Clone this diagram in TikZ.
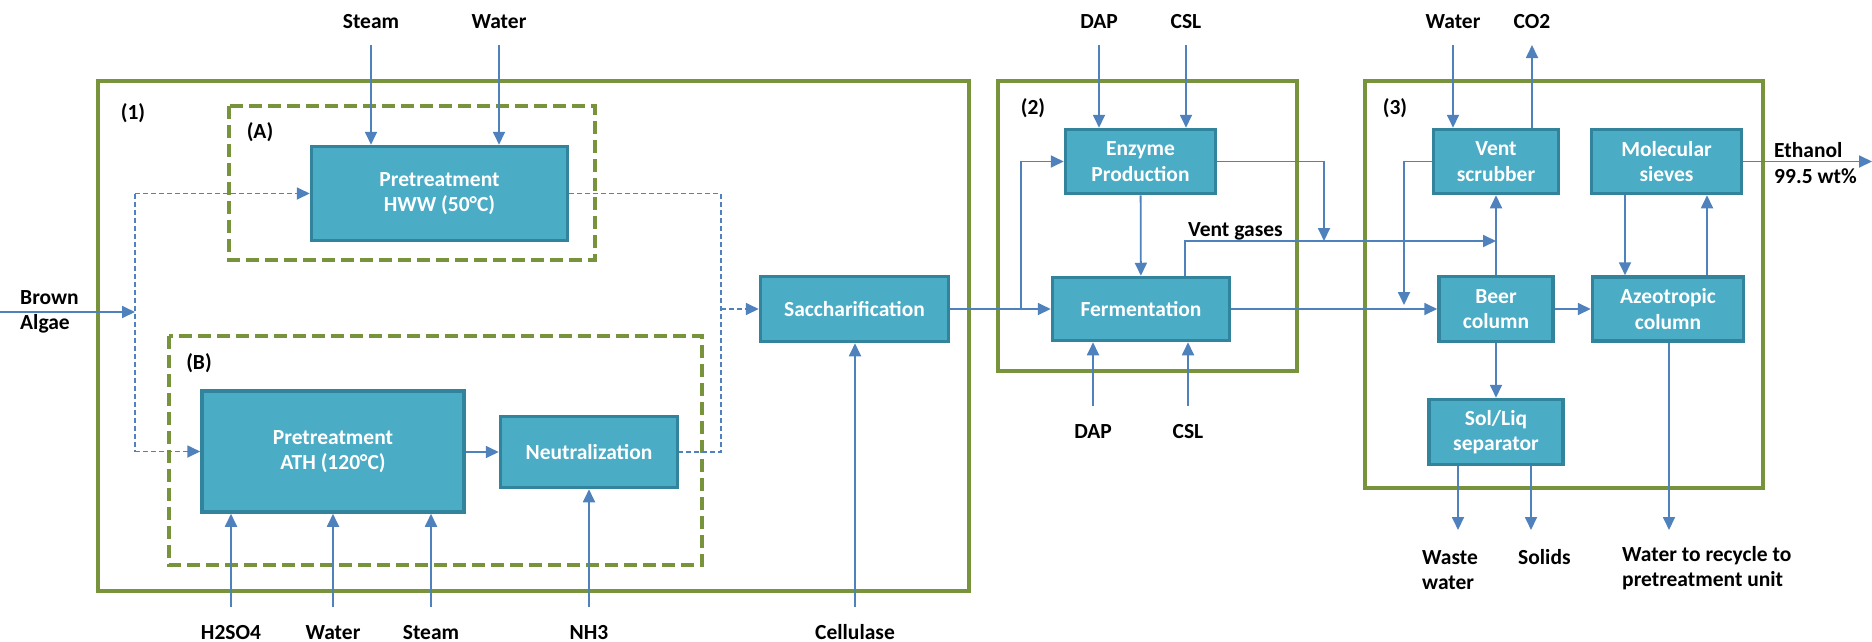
\documentclass[tikz,border=0pt]{standalone}
\usepackage{fontspec}
\setmainfont{Carlito}
\usetikzlibrary{arrows.meta}
\definecolor{boxfill}{HTML}{4BACC6}
\definecolor{boxline}{HTML}{31849B}
\definecolor{grn}{HTML}{77933C}
\definecolor{flow}{HTML}{4F81BD}

\begin{document}
\begin{tikzpicture}[x=1pt, y=-1pt,
	font=\fontsize{21.5}{25.5}\selectfont\bfseries,
	unit/.style={draw=boxline, fill=boxfill, line width=3.5pt, text=white, align=center, inner sep=0pt},
	area/.style={draw=grn, line width=4pt},
	subarea/.style={draw=grn, line width=4pt, dash pattern=on 13pt off 6pt},
	flowline/.style={draw=flow, line width=1.8pt},
	arr/.style={flowline, -{Triangle[length=13pt,width=12pt]}},
	dflow/.style={dash pattern=on 5pt off 3pt},
	lbl/.style={anchor=base, inner sep=0pt, text height=14pt, text depth=4pt},
	mlbl/.style={anchor=west, inner sep=0pt, align=left}]
	\useasboundingbox (0,0) rectangle (1872,641);
	% areas
	\draw[area] (98,81) rectangle (969,591);
	\draw[area] (998,81) rectangle (1297,371);
	\draw[area] (1365,81) rectangle (1763,488);
	\draw[subarea] (229,106) rectangle (595,260);
	\draw[subarea] (169,336) rectangle (702,565);
	\node (r1) at (133,113) {(1)};
	\node (rA) at (260,132) {(A)};
	\node (rB) at (199,363) {(B)};
	\node (r2) at (1033,108) {(2)};
	\node (r3) at (1395,108) {(3)};
	% units
	\node[unit, minimum width=256, minimum height=94] (hww) at (439.5,193.5) {Pretreatment\\HWW (50°C)};
	\node[unit, minimum width=262, minimum height=121] (ath) at (333,451.5) {Pretreatment\\ATH (120°C)};
	\node[unit, minimum width=177, minimum height=71] (neut) at (589,452) {Neutralization};
	\node[unit, minimum width=188, minimum height=65] (sacch) at (854.5,309) {Saccharification};
	\node[unit, minimum width=150, minimum height=64] (enz) at (1140.5,161.5) {Enzyme\\Production};
	\node[unit, minimum width=177, minimum height=63] (ferm) at (1141,309) {Fermentation};
	\node[unit, minimum width=125, minimum height=64] (vent) at (1496,161.5) {Vent\\scrubber};
	\node[unit, minimum width=150, minimum height=64] (mol) at (1666.5,161.5) {Molecular\\sieves};
	\node[unit, minimum width=114, minimum height=65] (beer) at (1496,309) {Beer\\column};
	\node[unit, minimum width=151, minimum height=64] (azeo) at (1668,309) {Azeotropic\\column};
	\node[unit, minimum width=134, minimum height=65] (sep) at (1496,432) {Sol/Liq\\separator};
	% feed and pretreatment routes
	\node[mlbl] (algae) at (20,312) {Brown\\Algae};
	\coordinate (feed) at (0,312); \coordinate (split) at (135,312);
	\coordinate (merge) at (721,309);
	\draw[arr] (feed) -- (split);
	\draw[flowline, dflow] (split |- hww.west) -- (split |- ath.west);
	\draw[arr, dflow] (split |- hww.west) -- (hww.west);
	\draw[arr, dflow] (split |- ath.west) -- (ath.west);
	\draw[flowline, dflow] (hww.east) -| (merge |- neut.east) -- (neut.east);
	\draw[arr, dflow] (merge) -- (sacch.west);
	\draw[arr] (ath.east |- neut.west) -- (neut.west);
	% feeds from above
	\foreach \n/\x/\t/\tgt in {s/371/Steam/hww, w/499/Water/hww, d/1099/DAP/enz, c/1186/CSL/enz, v/1453/Water/vent}
	{
		\node[lbl] (top\n) at (\x,28) {\t};
		\draw[arr] ([yshift=-17pt]top\n.base) -- (top\n |- \tgt.north);
	}
	\node[lbl] (co2) at (1532,28) {CO2};
	\draw[arr] (co2 |- vent.north) -- ([yshift=-17pt]co2.base);
	% feeds from below
	\foreach \n/\x/\y/\t/\tgt in {h/231/639/H2SO4/ath, w/333/639/Water/ath, s/431/639/Steam/ath, n/589/639/NH3/neut, c/855/639/Cellulase/sacch, d/1093/438/DAP/ferm, l/1188/438/CSL/ferm}
	{
		\node[lbl] (bot\n) at (\x,\y) {\t};
		\draw[arr] ([yshift=18pt]bot\n.north) -- (bot\n |- \tgt.south);
	}
	% fermentation
	\coordinate (br) at (1021,309);
	\coordinate (vgas) at (1185,241); \coordinate (ejoin) at (1324,241);
	\draw[arr] (sacch) -- (ferm);
	\draw[arr] (br) |- (enz.west);
	\draw[arr] (enz) -- (ferm);
	\draw[arr] (vgas |- ferm.north) -- (vgas) -- (vgas -| beer.north);
	\node[lbl, anchor=base west] (vgtxt) at (1188,236) {Vent gases};
	\draw[arr] (enz.east) -| (ejoin);
	% ethanol recovery
	\coordinate (vdown) at (1404,305);
	\coordinate (m1) at (1625,0); \coordinate (m2) at (1707,0);
	\draw[arr] (ferm) -- (beer);
	\draw[arr] (vent.west) -| (vdown);
	\draw[arr] (beer.north) -- (vent.south);
	\draw[arr] (beer) -- (azeo);
	\draw[arr] (m1 |- mol.south) -- (m1 |- azeo.north);
	\draw[arr] (m2 |- azeo.north) -- (m2 |- mol.south);
	\draw[arr] (beer.south) -- (sep.north);
	\coordinate (eth) at (1872,161.5);
	\draw[arr] (mol.east) -- (eth);
	\node[mlbl] (ethtxt) at (1774,163) {Ethanol\\99.5 wt\%};
	% products
	\coordinate (ww) at (1458,530); \coordinate (sol) at (1531,530); \coordinate (rec) at (1669,530);
	\draw[arr] (sep.south -| ww) -- (ww);
	\draw[arr] (sep.south -| sol) -- (sol);
	\draw[arr] (azeo.south -| rec) -- (rec);
	\node[mlbl] (wwtxt) at (1422,570) {Waste\\water};
	\node[lbl, anchor=base west] (soltxt) at (1518,564) {Solids};
	\node[mlbl] (rectxt) at (1622,568) {Water to recycle to\\pretreatment unit};
\end{tikzpicture}
\end{document}
